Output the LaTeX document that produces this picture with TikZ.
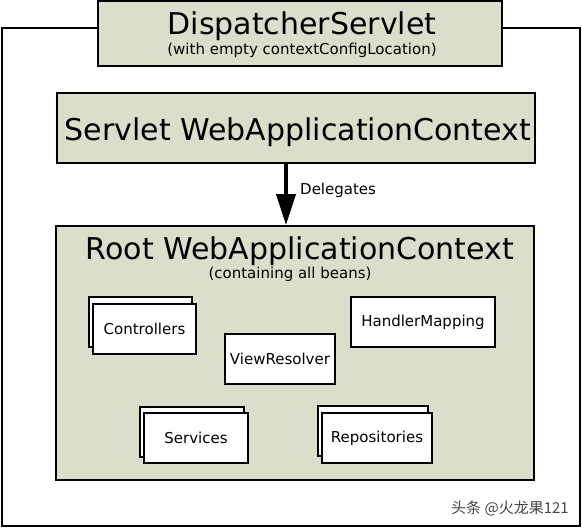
\documentclass[tikz,border=0pt]{standalone}
\usepackage{fontspec}
\setmainfont{DejaVu Sans}
\newfontfamily\cjkfont{Noto Sans CJK SC}
\usetikzlibrary{arrows.meta}
\definecolor{sage}{RGB}{220,222,204}
\definecolor{wmgray}{RGB}{70,70,70}
\begin{document}
\begin{tikzpicture}[x=1pt,y=-1pt,
  bigbox/.style={draw=black,fill=sage,line width=1.8pt,inner sep=0pt},
  smallbox/.style={draw=black,fill=white,line width=1.2pt,inner sep=0pt,font=\fontsize{15}{17}\selectfont},
  titletext/.style={inner sep=0pt,font=\fontsize{30}{34}\selectfont},
  subtext/.style={inner sep=0pt,font=\fontsize{15}{17}\selectfont}]
\useasboundingbox (0,0) rectangle (582,529);
% outer frame
\node[draw=black,line width=2pt,minimum width=578pt,minimum height=498pt,inner sep=0pt] (frame) at (290.5,277.5) {};
% dispatcher
\node[bigbox,minimum width=404pt,minimum height=65pt] (disp) at (300,33.5) {};
\node[titletext] (disptitle) at (302,26) {DispatcherServlet};
\node[subtext] (dispsub) at (302,50) {(with empty contextConfigLocation)};
% servlet context
\node[bigbox,minimum width=478pt,minimum height=70pt] (servlet) at (296,128) {};
\node[titletext] (servlettitle) at (298,132) {Servlet WebApplicationContext};
% root context
\node[bigbox,minimum width=478pt,minimum height=254pt] (root) at (295,353) {};
\node[titletext] (roottitle) at (300,251) {Root WebApplicationContext};
\node[subtext] (rootsub) at (290,274) {(containing all beans)};
% arrow
\draw[line width=4pt,-{Triangle[width=19pt,length=31pt]}] (servlet.south -| 286,0) -- (root.north -| 286,0);
\node[subtext,anchor=west] (deleg) at (300,190) {Delegates};
% small boxes
\node[smallbox,minimum width=103pt,minimum height=50pt] (ctrlback) at (140.5,322) {};
\node[smallbox,minimum width=103pt,minimum height=50pt] (ctrl) at (144.5,329) {Controllers};
\node[smallbox,minimum width=110pt,minimum height=50pt] (view) at (280,359) {ViewResolver};
\node[smallbox,minimum width=144pt,minimum height=50pt] (handler) at (423,322) {HandlerMapping};
\node[smallbox,minimum width=104pt,minimum height=50pt] (servback) at (192,432) {};
\node[smallbox,minimum width=104pt,minimum height=50pt] (serv) at (196,438) {Services};
\node[smallbox,minimum width=110pt,minimum height=50pt] (repoback) at (373,431) {};
\node[smallbox,minimum width=110pt,minimum height=50pt] (repo) at (377,438) {Repositories};
% watermark
\node[inner sep=0pt,text=wmgray,font=\cjkfont\fontsize{15}{17}\selectfont] (wm) at (510,508) {头条 @火龙果121};
\end{tikzpicture}
\end{document}
